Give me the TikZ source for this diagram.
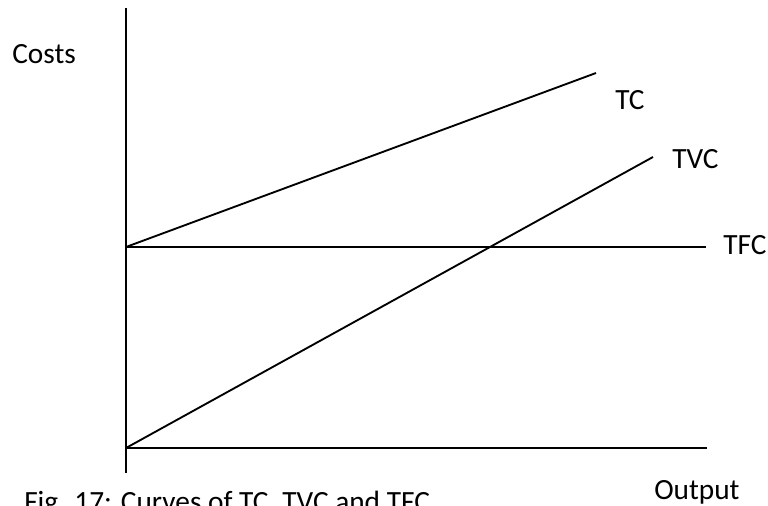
\documentclass[tikz,border=0pt]{standalone}
\usepackage{fontspec}
\setmainfont{Carlito}
\usetikzlibrary{positioning}
\tikzstyle{axis} = [line width=1.4pt, black]
\tikzstyle{cost} = [line width=1.4pt, black]
\tikzstyle{label} = [anchor=base west, inner sep=0pt, font=\fontsize{22}{26}\selectfont]
\begin{document}
\begin{tikzpicture}[x=0.75pt, y=-0.75pt]
            \useasboundingbox (0,0) rectangle (768,506);

            % Axes
            \coordinate (top) at (126,8);
            \coordinate (bottom) at (126,473);
            \coordinate (origin) at (126,448);
            \coordinate (fixed) at (126,247);
            \coordinate (xend) at (707,448);
            \draw[axis] (top) -- (bottom);
            \draw[axis] (origin) -- (xend);

            % Cost curves
            \coordinate (tfcend) at (706,247);
            \coordinate (tcend) at (596,73);
            \coordinate (tvcend) at (653,157);
            \draw[cost] (fixed) -- (tfcend);
            \draw[cost] (fixed) -- (tcend);
            \draw[cost] (origin) -- (tvcend);

            % Labels
            \node[label] (costs) at (12,64) {Costs};
            \node[label] (tc) at (615,110) {TC};
            \node[label] (tvc) at (672,169) {TVC};
            \node[label] (tfc) at (723,255) {TFC};
            \node[label] (output) at (654,499) {Output};
            \node[label] (caption) at (24,511) {Fig. 17: Curves of TC, TVC and TFC};
        \end{tikzpicture}
\end{document}
